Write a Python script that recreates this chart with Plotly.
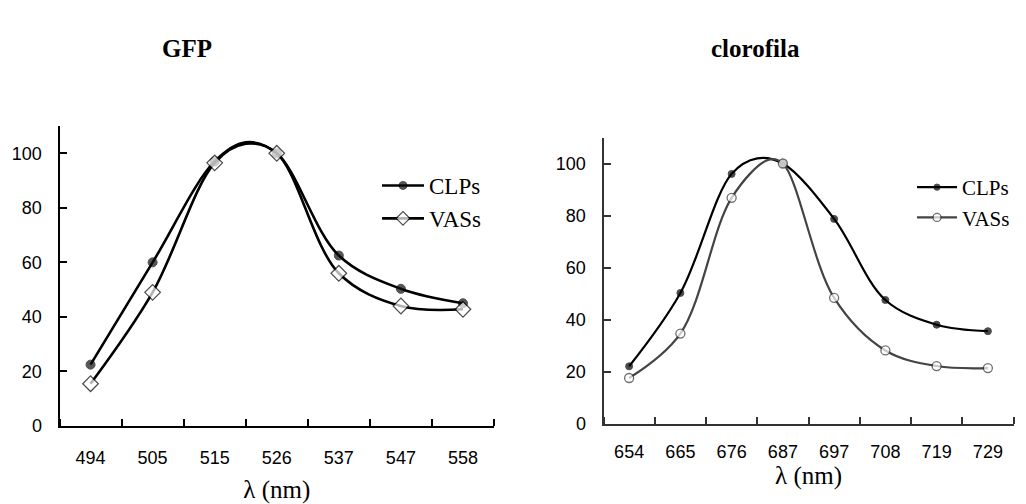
import numpy as np
import plotly.graph_objects as go

# ---------------- data ----------------
gfp_labels = [494, 505, 515, 526, 537, 547, 558]
gfp_clps_wl = [494, 505, 515, 520.5, 526, 537, 547, 558]
gfp_clps = [22.5, 60, 97, 104, 100, 62.5, 50.3, 45]
gfp_vass_wl = [494, 505, 515, 520.5, 526, 537, 547, 558]
gfp_vass = [15.5, 49, 96.5, 103.5, 100, 56, 44, 42.8]

clo_labels = [654, 665, 676, 687, 697, 708, 719, 729]
clo_clps_wl = [654, 665, 676, 681.5, 687, 697, 708, 719, 729]
clo_clps = [22, 50.2, 96, 102, 100, 78.7, 47.5, 38, 35.5]
clo_vass_wl = [654, 665, 676, 684, 687, 697, 708, 719, 729]
clo_vass = [17.5, 34.6, 86.8, 101.5, 100, 48.3, 28.1, 22.1, 21.3]

y_ticks = [0, 20, 40, 60, 80, 100]


def pos(wl, labels):
    return np.interp(wl, labels, np.arange(len(labels)))


def sizes(wl, labels, s):
    return [s if w in labels else 0 for w in wl]


fig = go.Figure()

# GFP panel
fig.add_trace(go.Scatter(
    x=pos(gfp_clps_wl, gfp_labels), y=gfp_clps, name="CLPs", mode="lines+markers",
    line=dict(color="black", width=2.6, shape="spline", smoothing=1.0),
    marker=dict(symbol="circle", size=sizes(gfp_clps_wl, gfp_labels, 9), color="#111111",
                line=dict(color="black", width=1)),
    xaxis="x", yaxis="y", legend="legend"))
fig.add_trace(go.Scatter(
    x=pos(gfp_vass_wl, gfp_labels), y=gfp_vass, name="VASs", mode="lines+markers",
    line=dict(color="black", width=2.6, shape="spline", smoothing=1.0),
    marker=dict(symbol="diamond", size=sizes(gfp_vass_wl, gfp_labels, 12), color="white",
                line=dict(color="black", width=1.2)),
    xaxis="x", yaxis="y", legend="legend"))

# clorofila panel
fig.add_trace(go.Scatter(
    x=pos(clo_clps_wl, clo_labels), y=clo_clps, name="CLPs", mode="lines+markers",
    line=dict(color="black", width=2.2, shape="spline", smoothing=1.0),
    marker=dict(symbol="circle", size=sizes(clo_clps_wl, clo_labels, 7), color="black",
                line=dict(color="black", width=1)),
    xaxis="x2", yaxis="y2", legend="legend2"))
fig.add_trace(go.Scatter(
    x=pos(clo_vass_wl, clo_labels), y=clo_vass, name="VASs", mode="lines+markers",
    line=dict(color="#444444", width=2.2, shape="spline", smoothing=1.0),
    marker=dict(symbol="circle", size=sizes(clo_vass_wl, clo_labels, 9), color="white",
                line=dict(color="#333333", width=1.3)),
    xaxis="x2", yaxis="y2", legend="legend2"))

tick_font = dict(family="Liberation Sans, Arial", size=18, color="black")
serif = "Liberation Serif, Times New Roman"


def xaxis(labels, domain, anchor, color, label_gap, title_gap):
    n = len(labels)
    return dict(
        domain=domain, anchor=anchor, range=[-0.5, n - 0.5], automargin=False,
        tickvals=list(range(n)), ticktext=[str(v) for v in labels],
        ticks="", showgrid=False, zeroline=False,
        showline=True, linecolor=color, linewidth=2,
        tickfont=tick_font, ticklabelstandoff=label_gap,
        minor=dict(tickvals=[i - 0.5 for i in range(n + 1)], ticks="inside",
                   ticklen=7, tickwidth=2, tickcolor=color, showgrid=False),
        title=dict(text="λ (nm)", font=dict(family=serif, size=25, color="black"),
                   standoff=title_gap),
    )


def yaxis(domain, anchor, color):
    return dict(
        domain=domain, anchor=anchor, range=[0, 110], automargin=False,
        tickvals=y_ticks, ticks="inside", ticklen=7, tickwidth=2, tickcolor=color,
        showgrid=False, zeroline=False, showline=True, linecolor=color, linewidth=2,
        tickfont=tick_font, ticklabelstandoff=12,
    )


fig.update_layout(
    width=1026, height=504,
    margin=dict(l=0, r=0, t=0, b=0),
    paper_bgcolor="white", plot_bgcolor="white",
    xaxis=xaxis(gfp_labels, [59.5 / 1026, 494 / 1026], "y", "black", 14, 14),
    yaxis=yaxis([(504 - 426) / 504, (504 - 126) / 504], "x", "black"),
    xaxis2=xaxis(clo_labels, [603.5 / 1026, 1013.5 / 1026], "y2", "#333333", 11, 4),
    yaxis2=yaxis([(504 - 423.5) / 504, (504 - 137.5) / 504], "x2", "#333333"),
    legend=dict(x=377 / 1026, y=(504 - 164) / 504, xanchor="left", yanchor="top",
                font=dict(family=serif, size=23, color="black"), bgcolor="rgba(0,0,0,0)",
                itemwidth=42, tracegroupgap=0),
    legend2=dict(x=912 / 1026, y=(504 - 167) / 504, xanchor="left", yanchor="top",
                 font=dict(family=serif, size=21, color="black"), bgcolor="rgba(0,0,0,0)",
                 itemwidth=40, tracegroupgap=0),
    annotations=[
        dict(text="<b>GFP</b>", x=187 / 1026, y=(504 - 49) / 504, xref="paper", yref="paper",
             xanchor="center", yanchor="middle",
             showarrow=False, font=dict(family=serif, size=25, color="black")),
        dict(text="<b>clorofila</b>", x=755 / 1026, y=(504 - 49) / 504, xref="paper", yref="paper",
             xanchor="center", yanchor="middle",
             showarrow=False, font=dict(family=serif, size=25, color="black")),
    ],
    showlegend=True,
)

fig.write_html("out.html", config={"displayModeBar": False},
               post_script="document.body.style.margin='0';")
